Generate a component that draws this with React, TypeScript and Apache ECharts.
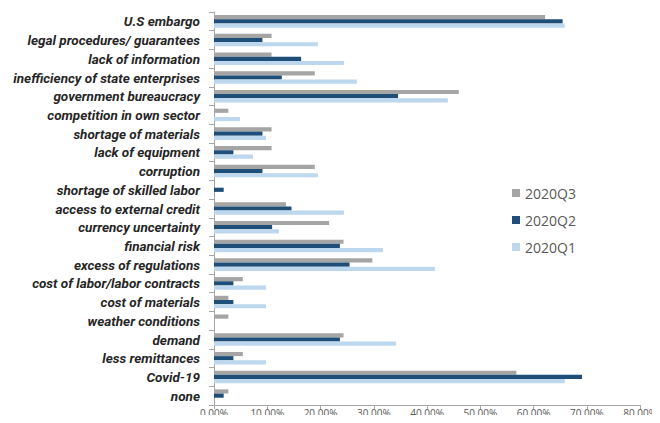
import React, { useEffect, useRef } from "react";
import * as echarts from "echarts";

const categories = [
  "U.S embargo",
  "legal procedures/ guarantees",
  "lack of information",
  "inefficiency of state enterprises",
  "government bureaucracy",
  "competition in own sector",
  "shortage of materials",
  "lack of equipment",
  "corruption",
  "shortage of skilled labor",
  "access to external credit",
  "currency uncertainty",
  "financial risk",
  "excess of regulations",
  "cost of labor/labor contracts",
  "cost of materials",
  "weather conditions",
  "demand",
  "less remittances",
  "Covid-19",
  "none",
];

const q3 = [62.16, 10.81, 10.81, 18.92, 45.95, 2.7, 10.81, 10.81, 18.92, 0, 13.51, 21.62, 24.32, 29.73, 5.41, 2.7, 2.7, 24.32, 5.41, 56.76, 2.7];
const q2 = [65.45, 9.09, 16.36, 12.73, 34.55, 0, 9.09, 3.64, 9.09, 1.82, 14.55, 10.91, 23.64, 25.45, 3.64, 3.64, 0, 23.64, 3.64, 69.09, 1.82];
const q1 = [65.85, 19.51, 24.39, 26.83, 43.9, 4.88, 9.76, 7.32, 19.51, 0, 24.39, 12.2, 31.71, 41.46, 9.76, 9.76, 0, 34.15, 9.76, 65.85, 0];

const seriesNames = ["2020Q3", "2020Q2", "2020Q1"];
const colors = ["#A5A5A5", "#1F4E79", "#BDD7EE"];

export default function App() {
  const ref = useRef<HTMLDivElement>(null);
  useEffect(() => {
    if (!ref.current) return;
    const chart = echarts.init(ref.current, null, { renderer: "svg" });
    const data = [q3, q2, q1];
    chart.setOption({
      animation: false,
      grid: { left: 214, right: 18, top: 12, bottom: 18, containLabel: false },
      legend: {
        orient: "vertical",
        left: 507,
        top: 181,
        itemWidth: 8,
        itemHeight: 8,
        itemGap: 13,
        icon: "rect",
        data: seriesNames,
        textStyle: { color: "#595959", fontSize: 14, fontFamily: "Open Sans" },
      },
      xAxis: {
        type: "value",
        min: 0,
        max: 80,
        interval: 10,
        splitLine: { show: false },
        axisLine: { show: true, lineStyle: { color: "#A6A6A6" } },
        axisTick: { show: true, length: 4, lineStyle: { color: "#A6A6A6" } },
        axisLabel: {
          color: "#595959",
          fontSize: 10,
          fontFamily: "Open Sans",
          margin: 3,
          formatter: (v: number) => v.toFixed(2) + "%",
        },
      },
      yAxis: {
        type: "category",
        inverse: true,
        data: categories,
        axisLine: { show: true, lineStyle: { color: "#A6A6A6" } },
        axisTick: { show: true, length: 5, lineStyle: { color: "#A6A6A6" } },
        axisLabel: {
          color: "#262626",
          fontSize: 13.5,
          fontWeight: "bold",
          fontStyle: "italic",
          fontFamily: "Roboto",
          margin: 14,
        },
      },
      series: seriesNames.map((name, i) => ({
        name,
        type: "bar",
        data: data[i],
        itemStyle: { color: colors[i] },
        barGap: "0%",
        barCategoryGap: "33%",
      })),
    });
    return () => chart.dispose();
  }, []);
  return <div ref={ref} style={{ width: 660, height: 423, margin: -8 }} />;
}
